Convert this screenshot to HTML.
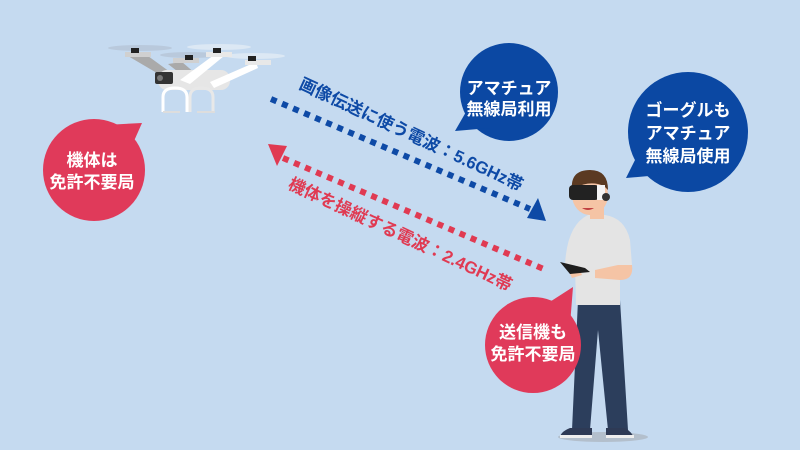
<!DOCTYPE html>
<html><head><meta charset="utf-8">
<style>
html,body{margin:0;padding:0;background:#c5daf0;}
svg{display:block}
text{font-family:"Liberation Sans","Noto Sans CJK JP",sans-serif;font-weight:bold;}
</style></head>
<body>
<svg width="800" height="450" viewBox="0 0 800 450" xmlns="http://www.w3.org/2000/svg">
<rect width="800" height="450" fill="#c5daf0"/>

<!-- drone -->
<g>
  <ellipse cx="140" cy="48" rx="32" ry="3" fill="#b9c9dc"/>
  <ellipse cx="190" cy="55" rx="30" ry="3" fill="#b9c9dc"/>
  <ellipse cx="219" cy="47" rx="32" ry="3" fill="#dce8f4"/>
  <ellipse cx="255" cy="56" rx="30" ry="3" fill="#dce8f4"/>
  <polygon points="128,56 148,56 170,72 162,76" fill="#aaaaaa"/>
  <polygon points="168,64 182,62 196,74 186,78" fill="#aaaaaa"/>
  <rect x="158" y="70" width="72" height="20" rx="9" fill="#e6e6e6"/>
  <polygon points="180,80 218,52 224,56 190,84" fill="#ffffff"/>
  <polygon points="210,82 256,62 258,68 214,88" fill="#ffffff"/>
  <rect x="125" y="52" width="26" height="5" fill="#d0d0d0"/>
  <rect x="206" y="52" width="26" height="5" fill="#e8e8e8"/>
  <rect x="245" y="60" width="26" height="5" fill="#e8e8e8"/>
  <rect x="173" y="58" width="26" height="5" fill="#d0d0d0"/>
  <rect x="131" y="48" width="8" height="5" fill="#222"/>
  <rect x="185" y="55" width="8" height="5" fill="#222"/>
  <rect x="213" y="48" width="8" height="5" fill="#222"/>
  <rect x="248" y="56" width="8" height="5" fill="#222"/>
  <rect x="155" y="72" width="18" height="12" rx="2" fill="#333"/>
  <circle cx="160" cy="78" r="3" fill="#777"/>
  <path d="M163,112 V97 Q163,88 175,88 Q187,88 187,97 V112" fill="none" stroke="#ffffff" stroke-width="3"/>
  <path d="M190,112 V97 Q190,88 201,88 Q213,88 213,97 V112" fill="none" stroke="#e8e8e8" stroke-width="3"/>
  <line x1="163" y1="112" x2="180" y2="112" stroke="#ddd" stroke-width="2"/>
  <line x1="197" y1="112" x2="215" y2="112" stroke="#ddd" stroke-width="2"/>
</g>

<!-- blue dotted line -->
<line x1="271" y1="99" x2="530" y2="209" stroke="#0e4aa6" stroke-width="6" stroke-dasharray="6 6"/>
<polygon points="546,221 527,218 538,198" fill="#0e4aa6"/>
<text x="0" y="0" font-size="17" fill="#0e4aa6" transform="translate(298,88) rotate(25)">画像伝送に使う電波：5.6GHz帯</text>

<!-- red dotted line -->
<line x1="283" y1="158" x2="546" y2="270" stroke="#e03a52" stroke-width="6" stroke-dasharray="6 6"/>
<polygon points="268,144 287,146 277,166" fill="#e03a52"/>
<text x="0" y="0" font-size="17" fill="#e03a52" transform="translate(287,188) rotate(25)">機体を操縦する電波：2.4GHz帯</text>

<!-- person -->
<g>
  <ellipse cx="603" cy="437" rx="45" ry="5" fill="#b3bfcc"/>
  <path d="M578,300 L620,300 L628,430 L608,430 L598,330 L590,430 L572,430 Z" fill="#2c3e5c"/>
  <path d="M570,428 L592,428 L592,438 L560,438 Q560,432 570,428Z" fill="#2e3a55"/>
  <path d="M606,428 L625,428 Q632,432 634,438 L606,438Z" fill="#2e3a55"/>
  <rect x="560" y="435" width="32" height="3" fill="#eee"/>
  <rect x="606" y="435" width="28" height="3" fill="#eee"/>
  <path d="M588,215 L605,215 Q625,218 630,240 L632,265 L620,265 L620,305 L576,305 L575,265 L565,265 Q567,225 588,215Z" fill="#e4e4e4"/>
  <path d="M566,266 L578,266 L582,275 L572,278Z" fill="#f5c4a5"/>
  <path d="M618,265 L632,265 Q634,280 620,280 L595,278 L595,270Z" fill="#f5c4a5"/>
  <polygon points="560,262 585,268 590,272 570,274" fill="#1e1e1e"/>
  <rect x="590" y="205" width="14" height="14" fill="#f5c4a5"/>
  <ellipse cx="590" cy="195" rx="18" ry="20" fill="#f5c4a5"/>
  <path d="M572,190 Q570,170 590,170 Q608,170 608,190 L604,186 Q590,180 575,188Z" fill="#5b3a22"/>
  <rect x="569" y="185" width="30" height="15" rx="4" fill="#222"/>
  <rect x="597" y="185" width="8" height="15" fill="#f4f4f4"/>
  <circle cx="606" cy="197" r="4" fill="#333"/>
  <path d="M582,208 Q588,212 594,208" fill="#c04040"/>
</g>

<!-- bubbles -->
<g fill="#e03a5a">
  <circle cx="94" cy="170" r="51"/>
  <polygon points="105,125 142,123 130,150"/>
  <circle cx="533" cy="345" r="48"/>
  <polygon points="545,305 573,287 570,325"/>
</g>
<g fill="#0b48a3">
  <circle cx="509" cy="92" r="49"/>
  <polygon points="455,131 470,105 490,128"/>
  <circle cx="688" cy="132" r="60"/>
  <polygon points="626,178 640,150 660,175"/>
</g>

<g fill="#ffffff" font-size="17" text-anchor="middle">
  <text x="92" y="166">機体は</text>
  <text x="92" y="188">免許不要局</text>
  <text x="509" y="94">アマチュア</text>
  <text x="509" y="115">無線局利用</text>
  <text x="688" y="116">ゴーグルも</text>
  <text x="688" y="139">アマチュア</text>
  <text x="688" y="162">無線局使用</text>
  <text x="533" y="338">送信機も</text>
  <text x="533" y="360">免許不要局</text>
</g>
</svg>
</body></html>
